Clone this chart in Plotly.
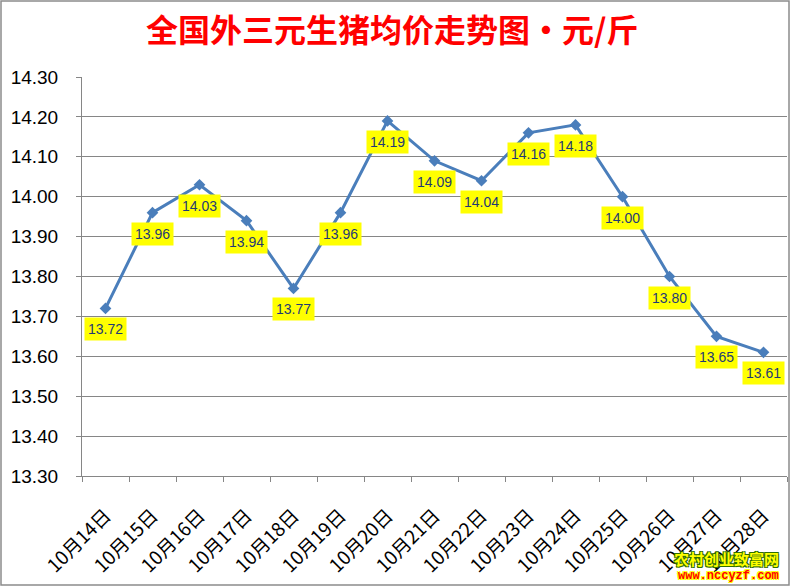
import plotly.graph_objects as go

dates = ["10月14日", "10月15日", "10月16日", "10月17日", "10月18日", "10月19日", "10月20日",
         "10月21日", "10月22日", "10月23日", "10月24日", "10月25日", "10月26日", "10月27日", "10月28日"]
prices = [13.72, 13.96, 14.03, 13.94, 13.77, 13.96, 14.19, 14.09, 14.04, 14.16, 14.18, 14.00, 13.80, 13.65, 13.61]
y_ticks = [13.30, 13.40, 13.50, 13.60, 13.70, 13.80, 13.90, 14.00, 14.10, 14.20, 14.30]

W, H = 791, 587
L, R, T, B = 82, 4, 77, 111
pw, ph = W - L - R, H - T - B

def px_x(px):
    return (px - L) / pw

def px_y(py):
    return (T + ph - py) / ph

fig = go.Figure()
fig.add_trace(go.Scatter(
    x=dates, y=prices, mode="lines+markers",
    line=dict(color="#4A7EBB", width=3),
    marker=dict(symbol="diamond", size=9, color="#4A7EBB"),
    hoverinfo="skip", showlegend=False, cliponaxis=False,
))

annotations = []
for d, p in zip(dates, prices):
    annotations.append(dict(
        x=d, y=p, xref="x", yref="y", text=f"{p:.2f}", showarrow=False,
        yshift=-21, bgcolor="#FFFF00", borderpad=3,
        font=dict(family="Liberation Sans, Arial, sans-serif", size=14, color="#1F3A75"),
    ))

annotations.append(dict(
    x=px_x(392), y=px_y(28), xref="paper", yref="paper",
    text="<b>全国外三元生猪均价走势图・元/斤</b>", showarrow=False,
    font=dict(family="Noto Sans CJK SC", size=32, color="#FF0000"),
    xanchor="center", yanchor="middle",
))
annotations.append(dict(
    x=px_x(781), y=px_y(558), xref="paper", yref="paper",
    text="<b>农村创业致富网</b>", showarrow=False,
    font=dict(family="Noto Sans CJK SC", size=15, color="#FFFF00",
              shadow="1px 1px 0 #2f6f00, -1px -1px 0 #2f6f00, 1px -1px 0 #2f6f00, -1px 1px 0 #2f6f00"),
    xanchor="right", yanchor="middle",
))
annotations.append(dict(
    x=px_x(781), y=px_y(576), xref="paper", yref="paper",
    text="<b>www.nccyzf.com</b>", showarrow=False,
    font=dict(family="Liberation Mono, Courier New, monospace", size=12, color="#FF0000",
              shadow="1px 1px 0 #FFFF00, -1px -1px 0 #FFFF00, 1px -1px 0 #FFFF00, -1px 1px 0 #FFFF00"),
    xanchor="right", yanchor="middle",
))

shapes = [dict(
    type="rect", xref="paper", yref="paper",
    x0=px_x(1), x1=px_x(W - 2),
    y0=px_y(H - 2), y1=px_y(1),
    line=dict(color="#8C8C8C", width=1.5), fillcolor="rgba(0,0,0,0)", layer="below",
)]

fig.update_layout(
    width=W, height=H,
    margin=dict(l=L, r=R, t=T, b=B, autoexpand=False),
    paper_bgcolor="white", plot_bgcolor="white",
    annotations=annotations, shapes=shapes,
    xaxis=dict(
        type="category", tickson="boundaries", ticks="outside", ticklen=5,
        tickcolor="#868686", showline=True, linecolor="#868686", linewidth=1,
        showgrid=False, tickangle=-45, automargin=False,
        ticklabelstandoff=20,
        tickfont=dict(family="Noto Sans CJK SC", size=19, color="#000000"),
        range=[-0.5, len(dates) - 0.5],
    ),
    yaxis=dict(
        range=[13.30, 14.30], tickvals=y_ticks,
        ticktext=[f"{v:.2f}" for v in y_ticks],
        ticks="outside", ticklen=5, tickcolor="#868686",
        showline=True, linecolor="#868686", linewidth=1,
        showgrid=True, gridcolor="#868686", gridwidth=1, zeroline=False,
        ticklabelstandoff=14, automargin=False,
        tickfont=dict(family="Liberation Sans, Arial, sans-serif", size=19, color="#000000"),
    ),
)

fig.write_html("out.html", config={"displayModeBar": False},
               post_script="document.body.style.margin='0';document.body.style.overflow='hidden';")
